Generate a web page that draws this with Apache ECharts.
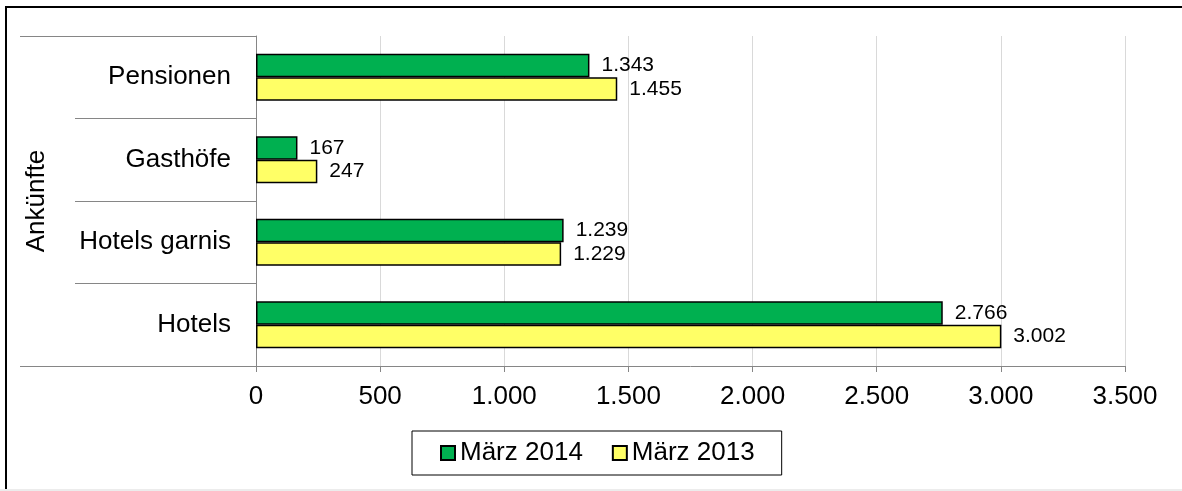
<!DOCTYPE html>
<html>
<head>
<meta charset="utf-8">
<script src="https://cdn.jsdelivr.net/npm/echarts@6/dist/echarts.min.js"></script>
<style>
  html, body { margin: 0; padding: 0; background: #fff; }
  #chart { width: 1182px; height: 491px; }
</style>
</head>
<body>
<div id="chart"></div>
<script>
// Daten
var kategorien = ['Hotels', 'Hotels garnis', 'Gasthöfe', 'Pensionen'];
var maerz2014 = [2766, 1239, 167, 1343];
var maerz2013 = [3002, 1229, 247, 1455];
var achsenTitel = 'Ankünfte';
var serienNamen = ['März 2014', 'März 2013'];

// Zahlen im deutschen Format (1.343)
function deFormat(v) {
  return String(Math.round(v)).replace(/\B(?=(\d{3})+(?!\d))/g, '.');
}

var schrift = 'Liberation Sans, Arial, sans-serif';
var myChart = echarts.init(document.getElementById('chart'));

var option = {
  backgroundColor: '#fff',
  animation: false,
  graphic: [
    {
      type: 'rect',
      shape: { x: 6, y: 7, width: 1200, height: 600 },
      style: { fill: 'none', stroke: '#000', lineWidth: 2 },
      z: 100
    },
    {
      type: 'rect',
      shape: { x: 0, y: 489, width: 1182, height: 2 },
      style: { fill: '#ececec' },
      z: 101
    }
  ],
  grid: { left: 256, right: 57, top: 36, bottom: 125 },
  legend: {
    data: serienNamen,
    left: 412,
    top: 431,
    padding: [9, 27, 9, 28],
    borderColor: '#000',
    borderWidth: 1,
    itemWidth: 14,
    itemHeight: 14,
    itemGap: 29,
    icon: 'rect',
    textStyle: { fontFamily: schrift, fontSize: 26, color: '#000' }
  },
  xAxis: {
    type: 'value',
    min: 0,
    max: 3500,
    interval: 500,
    axisLine: { show: true, lineStyle: { color: '#868686', width: 1 } },
    axisTick: { show: true, length: 6, lineStyle: { color: '#868686' } },
    splitLine: { show: true, lineStyle: { color: '#d9d9d9', width: 1 } },
    axisLabel: {
      fontFamily: schrift, fontSize: 26, color: '#000', margin: 18,
      formatter: deFormat
    }
  },
  yAxis: [
    {
      type: 'category',
      data: kategorien,
      axisLine: { show: true, lineStyle: { color: '#868686', width: 1 } },
      axisTick: { show: true, length: 181, lineStyle: { color: '#868686' } },
      axisLabel: { fontFamily: schrift, fontSize: 26, color: '#000', margin: 25 }
    },
    {
      type: 'category',
      data: [''],
      position: 'left',
      name: achsenTitel,
      nameLocation: 'middle',
      nameGap: 206,
      nameTextStyle: { fontFamily: schrift, fontSize: 26, color: '#000' },
      axisLine: { show: false },
      axisTick: { show: true, length: 236, lineStyle: { color: '#868686' } },
      axisLabel: { show: false }
    }
  ],
  series: [
    {
      name: serienNamen[0],
      type: 'bar',
      data: maerz2014,
      barGap: '0%',
      barCategoryGap: '43%',
      itemStyle: { color: '#00b050', borderColor: '#000', borderWidth: 1.5 },
      label: {
        show: true, position: 'right', distance: 12,
        fontFamily: schrift, fontSize: 21, color: '#000',
        formatter: function (p) { return deFormat(p.value); }
      }
    },
    {
      name: serienNamen[1],
      type: 'bar',
      data: maerz2013,
      barGap: '0%',
      barCategoryGap: '43%',
      itemStyle: { color: '#ffff66', borderColor: '#000', borderWidth: 1.5 },
      label: {
        show: true, position: 'right', distance: 12,
        fontFamily: schrift, fontSize: 21, color: '#000',
        formatter: function (p) { return deFormat(p.value); }
      }
    }
  ]
};

myChart.setOption(option);
</script>
</body>
</html>
